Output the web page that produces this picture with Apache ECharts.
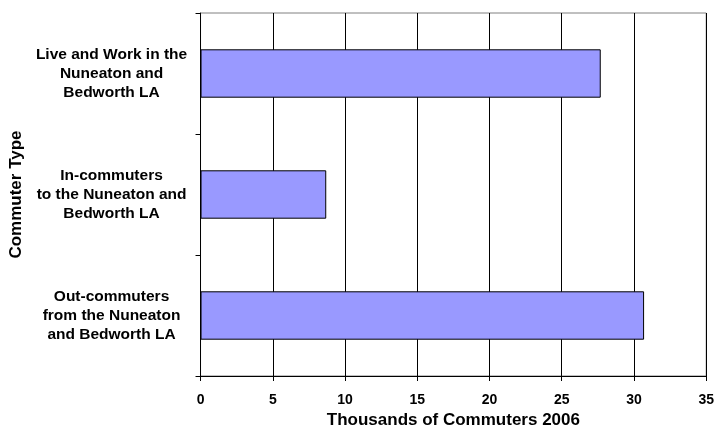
<!DOCTYPE html>
<html>
<head>
<meta charset="utf-8">
<script src="https://cdn.jsdelivr.net/npm/echarts@6/dist/echarts.min.js"></script>
<style>
  html, body { margin: 0; padding: 0; background: #fff; }
  #chart { width: 717px; height: 434px; }
</style>
</head>
<body>
<div id="chart"></div>
<script>
// Commuter types, listed bottom to top as the category axis draws them
const categories = [
  'Out-commuters\nfrom the Nuneaton\nand Bedworth LA',
  'In-commuters\nto the Nuneaton and\nBedworth LA',
  'Live and Work in the\nNuneaton and\nBedworth LA'
];
// Thousands of commuters, 2006
const commuters = [30.7, 8.7, 27.7];
const xTicks = { min: 0, max: 35, step: 5 };

const font = '"Liberation Sans", Arial, sans-serif';
const chart = echarts.init(document.getElementById('chart'), null, { renderer: 'canvas' });

chart.setOption({
  backgroundColor: '#ffffff',
  animation: false,
  grid: {
    left: 197, right: 9, top: 13, bottom: 50,
    show: true, borderColor: '#808080', borderWidth: 1, backgroundColor: 'transparent'
  },
  xAxis: {
    type: 'value',
    min: xTicks.min, max: xTicks.max, interval: xTicks.step,
    name: 'Thousands of Commuters 2006',
    nameLocation: 'middle',
    nameGap: 36,
    nameTextStyle: { fontFamily: font, fontWeight: 'bold', fontSize: 17, color: '#000' },
    axisLine: { show: true, lineStyle: { color: '#000', width: 1 } },
    axisTick: { show: true, length: 5, lineStyle: { color: '#000' } },
    axisLabel: { margin: 17, fontFamily: font, fontWeight: 'bold', fontSize: 14, color: '#000' },
    splitLine: { show: true, lineStyle: { color: '#000', width: 1 } }
  },
  yAxis: {
    type: 'category',
    data: categories,
    name: 'Commuter Type',
    nameLocation: 'middle',
    nameRotate: 90,
    nameGap: 170,
    nameTextStyle: { fontFamily: font, fontWeight: 'bold', fontSize: 17, color: '#000' },
    axisLine: { show: true, lineStyle: { color: '#000', width: 1 } },
    axisTick: { show: true, length: 5, alignWithLabel: false, lineStyle: { color: '#000' } },
    axisLabel: {
      margin: 89, align: 'center', lineHeight: 19,
      fontFamily: font, fontWeight: 'bold', fontSize: 15.5, color: '#000'
    },
    splitLine: { show: false }
  },
  series: [{
    type: 'bar',
    data: commuters,
    barWidth: '40%',
    itemStyle: { color: '#9999FF', borderColor: '#000', borderWidth: 1 }
  }]
});
</script>
</body>
</html>
